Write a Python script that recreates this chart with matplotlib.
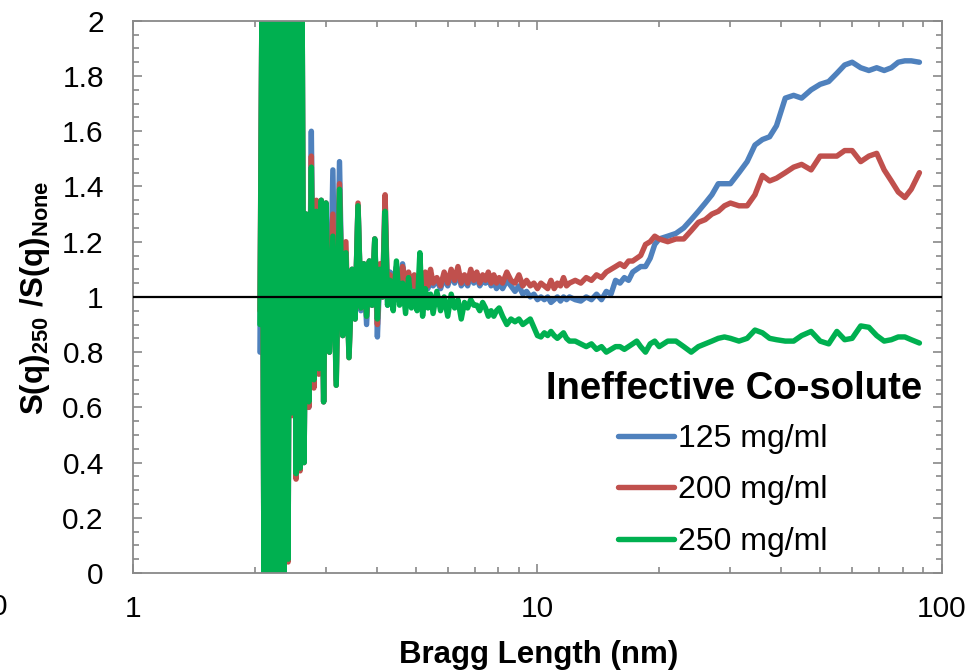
import matplotlib
matplotlib.use("Agg")
import matplotlib.pyplot as plt
from matplotlib.ticker import MultipleLocator, LogLocator, FuncFormatter, NullFormatter
from matplotlib.lines import Line2D

plt.rcParams.update({
    "font.family": "Liberation Sans",
    "mathtext.fontset": "custom",
    "mathtext.rm": "Liberation Sans",
    "mathtext.bf": "Liberation Sans:bold",
})

# Bragg length (nm), shared by the three series
bragg_nm = [
    2.06, 2.084, 2.108, 2.132, 2.157, 2.182, 2.207, 2.232, 2.258, 2.284, 2.31, 2.336,
    2.363, 2.39, 2.418, 2.445, 2.473, 2.502, 2.53, 2.559, 2.589, 2.618, 2.648,
    2.68, 2.72, 2.76, 2.80, 2.84, 2.88, 2.92, 2.96, 3.00,
    3.06, 3.12, 3.18, 3.24, 3.30, 3.36, 3.42, 3.48, 3.54, 3.60, 3.66, 3.72, 3.78, 3.84, 3.90, 3.96,
    4.02, 4.08, 4.14, 4.20, 4.26, 4.32,
    4.40, 4.48, 4.56, 4.64, 4.72, 4.80, 4.88, 4.96, 5.04, 5.12, 5.20, 5.28, 5.36, 5.44, 5.52,
    5.64, 5.76, 5.88, 6.00, 6.12, 6.24, 6.36, 6.48, 6.60, 6.72, 6.84, 6.96, 7.08, 7.20, 7.32, 7.44,
    7.56, 7.68, 7.80, 7.92, 8.04,
    8.2, 8.4, 8.6, 8.8, 9.0, 9.2, 9.4, 9.6, 9.8, 10.0, 10.2, 10.4, 10.6, 10.8, 11.0, 11.2, 11.4,
    11.6, 11.8, 12.0,
    12.4, 12.8, 13.2, 13.6, 14.0, 14.4, 14.8, 15.2, 15.6, 16.0, 16.4, 16.8, 17.2, 17.6, 18.0,
    18.5, 19.0, 19.5, 20.0,
    21, 22, 23, 24, 25, 26, 27, 28, 29, 30,
    31.5, 33, 34.5, 36, 37.5, 39,
    41, 43, 45, 47.5, 50, 52.5, 55, 57.5, 60,
    63, 66, 69, 72, 75, 78, 81, 84, 88,
]

ratio_125 = [
    0.80, 2.10, -0.10, 2.10, -0.10, 2.10, -0.10, 2.10, -0.10, 2.10, -0.10, 2.10,
    -0.10, 2.10, 0.05, 2.10, 0.58, 2.10, 0.36, 2.10, 0.38, 2.10, 0.40,
    1.30, 0.60, 1.60, 0.70, 1.30, 0.74, 1.35, 0.62, 1.34,
    0.80, 1.46, 0.70, 1.49, 0.86, 1.16, 0.80, 1.10, 0.92, 1.33, 0.95, 1.12, 0.90, 1.13, 0.97, 1.21,
    0.855, 1.10, 1.00, 1.36, 0.97, 1.09,
    1.05, 1.11, 1.02, 1.12, 1.04, 1.08, 1.03, 1.07, 0.98, 1.06, 1.02, 1.08, 1.03, 1.07, 1.04,
    1.06, 1.03, 1.07, 1.04, 1.08, 1.05, 1.09, 1.04, 1.06, 1.04, 1.08, 1.05, 1.07, 1.04, 1.06, 1.05,
    1.07, 1.04, 1.06, 1.03, 1.05,
    1.03, 1.06, 1.04, 1.02, 1.04, 1.01, 1.02, 1.00, 1.01, 0.99, 1.00, 0.99, 1.00, 0.98, 0.99, 1.00, 0.985,
    1.00, 0.99, 1.00,
    0.99, 0.985, 1.00, 0.99, 1.01, 0.99, 1.02, 1.01, 1.06, 1.05, 1.07, 1.06, 1.09, 1.10, 1.11,
    1.11, 1.14, 1.19, 1.21,
    1.22, 1.23, 1.25, 1.28, 1.31, 1.34, 1.37, 1.41, 1.41, 1.41,
    1.45, 1.49, 1.55, 1.57, 1.58, 1.62,
    1.72, 1.73, 1.72, 1.75, 1.77, 1.78, 1.81, 1.84, 1.85,
    1.83, 1.82, 1.83, 1.82, 1.83, 1.85, 1.855, 1.855, 1.85,
]

ratio_200 = [
    0.95, 2.10, -0.10, 2.10, -0.10, 2.10, -0.10, 2.10, -0.10, 2.10, -0.10, 2.10,
    -0.10, 2.10, 0.04, 2.10, 0.57, 2.10, 0.34, 2.10, 0.37, 2.10, 0.40,
    1.30, 0.60, 1.51, 0.67, 1.35, 0.72, 1.35, 0.62, 1.34,
    0.80, 1.30, 0.68, 1.41, 0.86, 1.20, 0.78, 1.10, 0.92, 1.34, 0.96, 1.12, 0.93, 1.13, 0.97, 1.21,
    0.90, 1.12, 1.00, 1.37, 0.99, 1.08,
    1.04, 1.10, 1.03, 1.11, 1.05, 1.09, 1.04, 1.08, 1.00, 1.05, 1.03, 1.09, 1.04, 1.10, 1.05,
    1.07, 1.04, 1.09, 1.05, 1.10, 1.06, 1.11, 1.05, 1.08, 1.05, 1.10, 1.06, 1.09, 1.05, 1.08, 1.06,
    1.09, 1.05, 1.08, 1.05, 1.07,
    1.05, 1.09, 1.06, 1.05, 1.08, 1.04, 1.06, 1.04, 1.05, 1.03, 1.05, 1.04, 1.03, 1.06, 1.03, 1.05, 1.04,
    1.07, 1.04, 1.05,
    1.06, 1.05, 1.07, 1.06, 1.08, 1.07, 1.09, 1.10, 1.11, 1.12, 1.11, 1.13, 1.13, 1.14, 1.15,
    1.19, 1.20, 1.22, 1.21,
    1.20, 1.21, 1.21, 1.24, 1.27, 1.28, 1.30, 1.31, 1.33, 1.34,
    1.33, 1.33, 1.37, 1.44, 1.42, 1.43,
    1.45, 1.47, 1.48, 1.46, 1.51, 1.51, 1.51, 1.53, 1.53,
    1.49, 1.51, 1.52, 1.46, 1.42, 1.38, 1.36, 1.39, 1.45,
]

ratio_250 = [
    0.90, 2.10, -0.10, 2.10, -0.10, 2.10, -0.10, 2.10, -0.10, 2.10, -0.10, 2.10,
    -0.10, 2.10, 0.05, 2.10, 0.58, 2.10, 0.36, 2.10, 0.38, 2.10, 0.40,
    1.30, 0.62, 1.47, 0.70, 1.31, 0.74, 1.35, 0.62, 1.34,
    0.80, 1.22, 0.68, 1.39, 0.86, 1.16, 0.78, 1.10, 0.92, 1.33, 0.96, 1.12, 0.93, 1.13, 0.97, 1.21,
    0.92, 1.10, 1.00, 1.31, 0.97, 1.06,
    0.95, 1.13, 0.97, 1.05, 0.94, 1.07, 0.96, 1.02, 0.95, 1.16, 0.93, 1.03, 0.96, 1.01, 0.94,
    1.02, 0.95, 1.00, 0.93, 1.01, 0.96, 0.99, 0.92, 0.98, 0.96, 0.99, 0.97, 0.97, 0.95, 0.98, 0.96,
    0.93, 0.95, 0.93, 0.95, 0.96,
    0.93, 0.90, 0.92, 0.91, 0.92, 0.90, 0.91, 0.92, 0.89, 0.86, 0.855, 0.87, 0.86, 0.875, 0.86, 0.85, 0.86,
    0.87, 0.85, 0.84,
    0.84, 0.83, 0.82, 0.83, 0.81, 0.82, 0.80, 0.81, 0.82, 0.82, 0.81, 0.82, 0.83, 0.84, 0.82,
    0.80, 0.83, 0.84, 0.82,
    0.84, 0.84, 0.82, 0.80, 0.82, 0.83, 0.84, 0.85, 0.855, 0.85,
    0.84, 0.85, 0.88, 0.87, 0.85, 0.845,
    0.84, 0.84, 0.86, 0.875, 0.84, 0.83, 0.875, 0.845, 0.85,
    0.895, 0.89, 0.86, 0.84, 0.845, 0.855, 0.855, 0.845, 0.833,
]

labels = ["125 mg/ml", "200 mg/ml", "250 mg/ml"]
colors = ["#4F81BD", "#C0504D", "#00B050"]
series = [ratio_125, ratio_200, ratio_250]

fig = plt.figure(figsize=(9.71, 6.71), dpi=100)
ax = fig.add_axes([0.137, 0.146, 0.833, 0.823])

for y, c in zip(series, colors):
    ax.plot(bragg_nm, y, color=c, lw=3.9, solid_capstyle="round", solid_joinstyle="round")

ax.axhline(1.0, color="black", lw=1.6, zorder=5)

ax.set_xscale("log")
ax.set_xlim(1, 100)
ax.set_ylim(0, 2)
ax.yaxis.set_major_locator(MultipleLocator(0.2))
ax.yaxis.set_minor_locator(MultipleLocator(0.05))
ax.xaxis.set_major_locator(LogLocator(base=10))
ax.xaxis.set_minor_locator(LogLocator(base=10, subs=range(2, 10)))
ax.xaxis.set_minor_formatter(NullFormatter())
fmt = FuncFormatter(lambda v, _: f"{v:g}")
ax.xaxis.set_major_formatter(fmt)
ax.yaxis.set_major_formatter(fmt)

grey = "#898989"
for s in ax.spines.values():
    s.set_color(grey)
    s.set_linewidth(1.3)
ax.tick_params(which="both", direction="in", top=True, right=True, color=grey, width=1.2,
               labelsize=21.5)
ax.tick_params(which="major", length=6.5)
ax.tick_params(which="minor", length=4)
ax.tick_params(axis="y", pad=21)
ax.tick_params(axis="x", pad=16)

# stray axis label at the left edge, cut off as in the original
fig.text(7 / 971, 1 - 607 / 671, "0", fontsize=21.5, ha="right", va="center")

fig.text(35 / 971, 1 - 298 / 671, r"$\mathbf{S(q)_{250}\ /S(q)_{None}}$",
         rotation=90, ha="center", va="center", fontsize=22.5)
fig.text(539 / 971, 1 - 655 / 671, "Bragg Length (nm)", fontsize=22.5, fontweight="bold",
         ha="center", va="center")

fig.text(922 / 971, 1 - 389 / 671, "Ineffective Co-solute", fontsize=27.5, fontweight="bold",
         ha="right", va="center")
handles = [Line2D([], [], color=c, lw=3.9, solid_capstyle="round") for c in colors]
leg = ax.legend(handles, labels, loc="upper left",
                bbox_to_anchor=(618 / 971, 1 - 424 / 671), bbox_transform=fig.transFigure,
                frameon=False, fontsize=23, handlelength=1.75, handletextpad=0.12,
                labelspacing=0.67, borderpad=0, borderaxespad=0)

fig.savefig("out.png", dpi=100)
